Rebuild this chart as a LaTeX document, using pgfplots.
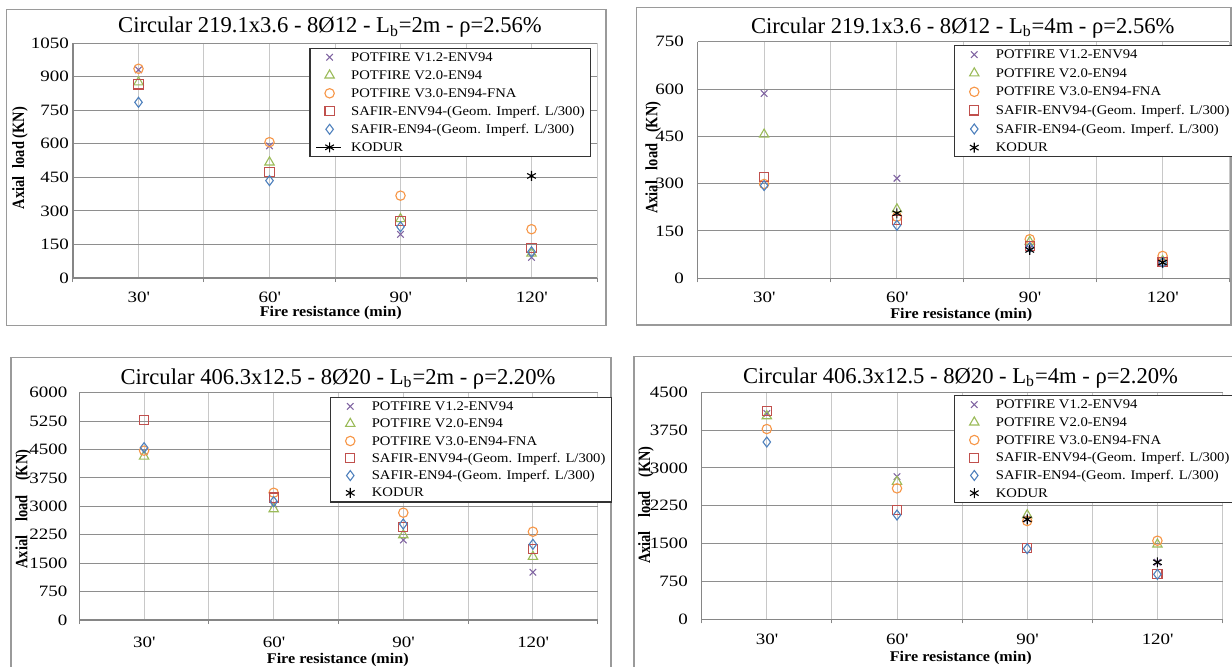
\documentclass[border=0pt]{standalone}
\usepackage{fontspec}
\setmainfont{Liberation Serif}
\newfontfamily\tickfont[FakeStretch=1.2]{Liberation Serif}
\newfontfamily\legfont[FakeStretch=1.11]{Liberation Serif}
\newfontfamily\labfont[FakeStretch=1.09]{Liberation Serif}
\usepackage{graphicx}
\usepackage{pgfplots}
\usepackage{pgfplotstable}
\pgfplotsset{compat=1.18}

\definecolor{cx}{HTML}{8064A2}
\definecolor{ctri}{HTML}{9BBB59}
\definecolor{ccirc}{HTML}{F79646}
\definecolor{csq}{HTML}{C0504D}
\definecolor{cdia}{HTML}{4F81BD}
\definecolor{axgray}{HTML}{868686}
\definecolor{hgrid}{HTML}{8E8E8E}
\definecolor{vgrid}{HTML}{C8C8C8}
\definecolor{frame}{HTML}{9A9A9A}

% x = 1:30', 2:60', 3:90', 4:120'
% a POTFIRE V1.2, b POTFIRE V2.0, c POTFIRE V3.0, d SAFIR-ENV94, e SAFIR-EN94
\pgfplotstableread{
x a    b    c    d    e
1 930  875  935  865  785
2 590  517  607  475  435
3 195  264  368  256  229
4 92   110  218  133  117
}\tabA
\pgfplotstableread{
x a    b    c    d    e
1 586  456  299  322  294
2 317  219  195  185  168
3 95   116  124  102  98
4 50   55   71   52   50
}\tabB
\pgfplotstableread{
x a    b    c    d    e
1 4440 4320 4470 5280 4550
2 3060 2930 3360 3230 3125
3 2112 2244 2833 2447 2534
4 1259 1672 2331 1874 1998
}\tabC
\pgfplotstableread{
x a    b    c    d    e
1 4080 4030 3772 4128 3514
2 2827 2728 2596 2166 2067
3 1990 2067 1948 1407 1400
4 1130 1486 1558 892  892
}\tabD

\pgfplotsset{
  panel/.style={
    scale only axis, anchor=south west,
    xmin=0.5, xmax=4.5, ymin=0,
    xtick={1,2,3,4},
    xticklabels={30\textquotesingle,60\textquotesingle,90\textquotesingle,120\textquotesingle},
    minor xtick={0.5,1.5,2.5,3.5,4.5},
    scaled y ticks=false,
    /pgf/number format/1000 sep={},
    /pgf/number format/assume math mode=true,
    axis x line*=bottom, axis y line*=left,
    axis line style={draw=axgray, line width=0.6pt},
    tick align=outside,
    major tick length=0pt, minor tick length=2pt,
    minor tick style={draw=axgray, line width=0.5pt},
    xmajorgrids, xminorgrids, ymajorgrids,
    x grid style={draw=vgrid, line width=0.5pt},
    y grid style={draw=hgrid, line width=0.5pt},
    minor grid style={draw=vgrid, line width=0.5pt},
    tick label style={font=\tickfont\fontsize{7.9}{9}\selectfont, text=black},
    every axis title shift=0pt,
    title style={anchor=base, font=\fontsize{11.3}{13}\selectfont},
    xlabel={Fire resistance (min)},
    xlabel style={anchor=center, font=\labfont\bfseries\fontsize{7.4}{9}\selectfont},
    ylabel style={anchor=center, font=\bfseries\fontsize{7.2}{9}\selectfont},
    legend cell align=left,
    legend image code/.code={\path (0cm,0cm) (0.5cm,0cm);
      \draw[##1,only marks] plot coordinates {(0.265cm,0cm)};},
    legend style={anchor=north west, draw=black!80, line width=0.6pt,
      inner xsep=2pt, inner ysep=0pt, column sep=2.8pt, row sep=0pt,
      font=\legfont\fontsize{6.6}{8}\selectfont,
      nodes={inner sep=1pt, text height=5.5pt, text depth=1.5pt}},
  },
  kodurleg/.style={legend image code/.code={\draw[black,line width=0.5pt] (0.03cm,0cm) -- (0.47cm,0cm);
      \draw[##1,only marks] plot coordinates {(0.265cm,0cm)};}},
  sA/.style={only marks, mark=x, color=cx, mark size=2.3pt, mark options={line width=0.55pt}},
  sB/.style={only marks, mark=triangle, color=ctri, mark size=2.7pt, mark options={line width=0.55pt}},
  sC/.style={only marks, mark=o, color=ccirc, mark size=2.35pt, mark options={line width=0.55pt}},
  sD/.style={only marks, mark=square, color=csq, mark size=2.3pt, mark options={line width=0.55pt}},
  sE/.style={only marks, mark=diamond, color=cdia, mark size=2.5pt, mark options={line width=0.55pt}},
  sK/.style={only marks, mark=asterisk, color=black, mark size=2.5pt, mark options={line width=0.55pt}},
}

\newcommand{\legnames}{\legend{POTFIRE V1.2-ENV94, POTFIRE V2.0-EN94, POTFIRE V3.0-EN94-FNA,
  SAFIR-ENV94-(Geom. Imperf. L/300), SAFIR-EN94-(Geom. Imperf. L/300), KODUR}}

\begin{document}
\begin{tikzpicture}[x=0.5pt,y=0.5pt]
\useasboundingbox (0,0) rectangle (1232,666);
\fill[white] (0,0) rectangle (1232,666);
% panel frames
\draw[frame, line width=0.6pt] (6.7,340.7) rectangle (606,656.7);
\draw[frame, line width=0.6pt] (636.7,341) rectangle (1231,658.7);
\draw[frame, line width=0.6pt] (11,-10) rectangle (611,308.7);
\draw[frame, line width=0.6pt] (634,-10) rectangle (1240,309.3);

% top left
\begin{axis}[panel,
  at={(36.5pt,194pt)}, width=262pt, height=117.5pt,
  ymax=1050, ytick={0,150,...,1050},
  title={Circular 219.1x3.6 - 8Ø12 - L\textsubscript{b}=2m - ρ=2.56\%},
  title style={at={(axis description cs:0.4905,1.0426)}},
  ylabel={\scalebox{1}[1.2]{Axial\hspace{2.2pt} load (KN)}},
  ylabel style={at={(axis description cs:-0.1011,0.51)}},
  xlabel style={at={(axis description cs:0.492,-0.149)}},
  yticklabel style={anchor=east, inner sep=0pt, xshift=-1.9pt},
  xticklabel style={anchor=north, inner sep=0pt, yshift=-6.7pt},
  legend style={at={(0.451,0.98)}},
]
\addplot[sA] table[x=x,y=a] {\tabA};
\addplot[sB] table[x=x,y=b] {\tabA};
\addplot[sC] table[x=x,y=c] {\tabA};
\addplot[sD] table[x=x,y=d] {\tabA};
\addplot[sE] table[x=x,y=e] {\tabA};
\addplot[sK, kodurleg] coordinates {(4,456)};
\legnames
\end{axis}

% top right
\begin{axis}[panel,
  at={(348.85pt,193.85pt)}, width=265.65pt, height=118.3pt,
  ymax=750, ytick={0,150,...,750},
  title={Circular 219.1x3.6 - 8Ø12 - L\textsubscript{b}=4m - ρ=2.56\%},
  title style={at={(axis description cs:0.499,1.0355)}},
  ylabel={\scalebox{1}[1.2]{Axial\hspace{3.6pt} load\hspace{3.6pt} (KN)}},
  ylabel style={at={(axis description cs:-0.0836,0.51)}},
  xlabel style={at={(axis description cs:0.496,-0.156)}},
  yticklabel style={anchor=east, inner sep=0pt, xshift=-6.7pt},
  xticklabel style={anchor=north, inner sep=0pt, yshift=-6.7pt},
  legend style={at={(0.4824,0.986)}, row sep=0.3pt},
]
\addplot[sA] table[x=x,y=a] {\tabB};
\addplot[sB] table[x=x,y=b] {\tabB};
\addplot[sC] table[x=x,y=c] {\tabB};
\addplot[sD] table[x=x,y=d] {\tabB};
\addplot[sE] table[x=x,y=e] {\tabB};
\addplot[sK] coordinates {(2,206) (3,90) (4,50)};
\legnames
\end{axis}

% bottom left
\begin{axis}[panel,
  at={(39.65pt,23pt)}, width=259.2pt, height=113.65pt,
  ymax=6000, ytick={0,750,...,6000},
  title={Circular 406.3x12.5 - 8Ø20 - L\textsubscript{b}=2m - ρ=2.20\%},
  title style={at={(axis description cs:0.499,1.038)}},
  ylabel={\scalebox{1}[1.2]{Axial\hspace{5.3pt} load\hspace{5.3pt} (KN)}},
  ylabel style={at={(axis description cs:-0.108,0.488)}},
  xlabel style={at={(axis description cs:0.4987,-0.176)}},
  yticklabel style={anchor=east, inner sep=0pt, xshift=-5.8pt},
  xticklabel style={anchor=north, inner sep=0pt, yshift=-8.2pt},
  legend style={at={(0.4836,0.982)}, row sep=-0.35pt},
]
\addplot[sA] table[x=x,y=a] {\tabC};
\addplot[sB] table[x=x,y=b] {\tabC};
\addplot[sC] table[x=x,y=c] {\tabC};
\addplot[sD] table[x=x,y=d] {\tabC};
\addplot[sE] table[x=x,y=e] {\tabC};
\addlegendimage{sK}
\legnames
\end{axis}

% bottom right
\begin{axis}[panel,
  at={(350.85pt,23.35pt)}, width=260.4pt, height=113.5pt,
  ymax=4500, ytick={0,750,...,4500},
  title={Circular 406.3x12.5 - 8Ø20 - L\textsubscript{b}=4m - ρ=2.20\%},
  title style={at={(axis description cs:0.497,1.04)}},
  ylabel={\scalebox{1}[1.2]{Axial\hspace{5pt} load\hspace{5pt} (KN)}},
  ylabel style={at={(axis description cs:-0.107,0.503)}},
  xlabel style={at={(axis description cs:0.4975,-0.172)}},
  yticklabel style={anchor=east, inner sep=0pt, xshift=-6.7pt},
  xticklabel style={anchor=north, inner sep=0pt, yshift=-7.3pt},
  legend style={at={(0.4845,0.988)}, row sep=-0.15pt},
]
\addplot[sA] table[x=x,y=a] {\tabD};
\addplot[sB] table[x=x,y=b] {\tabD};
\addplot[sC] table[x=x,y=c] {\tabD};
\addplot[sD] table[x=x,y=d] {\tabD};
\addplot[sE] table[x=x,y=e] {\tabD};
\addplot[sK] coordinates {(3,1982) (4,1130)};
\legnames
\end{axis}
\end{tikzpicture}
\end{document}
